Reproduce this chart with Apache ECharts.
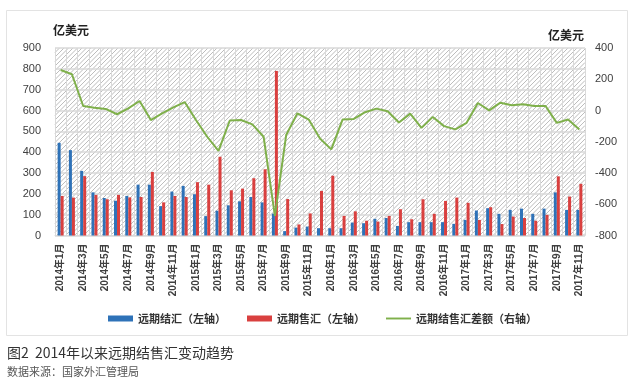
<!DOCTYPE html>
<html>
<head>
<meta charset="utf-8">
<script src="https://cdn.jsdelivr.net/npm/echarts@6/dist/echarts.min.js"></script>
<style>
html,body{margin:0;padding:0;background:#fff;}
#c{width:635px;height:386px;}
</style>
</head>
<body>
<div id="c"></div>
<script>
const categories = [
 '2014年1月','2014年2月','2014年3月','2014年4月','2014年5月','2014年6月','2014年7月','2014年8月','2014年9月','2014年10月','2014年11月','2014年12月',
 '2015年1月','2015年2月','2015年3月','2015年4月','2015年5月','2015年6月','2015年7月','2015年8月','2015年9月','2015年10月','2015年11月','2015年12月',
 '2016年1月','2016年2月','2016年3月','2016年4月','2016年5月','2016年6月','2016年7月','2016年8月','2016年9月','2016年10月','2016年11月','2016年12月',
 '2017年1月','2017年2月','2017年3月','2017年4月','2017年5月','2017年6月','2017年7月','2017年8月','2017年9月','2017年10月','2017年11月'
];
const settle = [445,410,310,207,180,167,190,244,244,141,211,238,
 198,93,119,145,164,185,159,105,21,38,43,35,
 35,35,62,59,80,84,46,64,64,64,64,56,
 75,120,131,104,123,129,104,129,207,123,123];
const sale = [190,182,285,195,174,195,183,185,305,159,190,185,
 256,244,378,217,225,275,318,790,175,53,106,214,
 287,94,116,71,67,94,126,78,174,104,166,182,
 157,75,136,55,91,84,71,99,284,187,248];
const diff = [259,232,29,18,10,-24,14,61,-61,-18,20,54,
 -61,-168,-259,-64,-61,-89,-168,-675,-157,-18,-58,-179,
 -249,-58,-54,-11,12,-5,-77,-20,-111,-41,-100,-121,
 -79,48,1,50,33,40,29,29,-79,-58,-121];
const leftTicks = {min:0, max:900, interval:100};
const rightTicks = {min:-800, max:400, interval:200};

const GL = 55, GR = 50, GT = 48, GB = 150.5;
const W = 635, H = 386;

// diagonal hatch background (decoration) clipped to plot area
function hatchLines(){
  const x0 = GL, y0 = GT, x1 = W - GR, y1 = H - GB;
  const out = [];
  for (let c = x0 + y0; c <= x1 + y1; c += 4.5) {
    const xa = Math.max(x0, c - y1), xb = Math.min(x1, c - y0);
    if (xb <= xa) continue;
    out.push({type:'line', silent:true, z:-5,
      shape:{x1:xa, y1:c - xa, x2:xb, y2:c - xb},
      style:{stroke:'#bdbdbd', lineWidth:1}});
  }
  return out;
}

const FONT = "'Liberation Sans','Noto Sans CJK SC',sans-serif";
const chart = echarts.init(document.getElementById('c'), null, {renderer:'canvas'});
chart.setOption({
  animation:false,
  backgroundColor:'#fff',
  textStyle:{fontFamily:FONT},
  graphic:[
    {type:'rect', shape:{x:6.5,y:10.5,width:621,height:325}, style:{fill:'none',stroke:'#e3e3e3',lineWidth:1}, z:-10},
    {type:'text', left:53, top:24, style:{text:'亿美元', font:"bold 12px 'Noto Sans CJK SC',sans-serif", fill:'#222'}},
    {type:'text', left:548, top:29, style:{text:'亿美元', font:"bold 12px 'Noto Sans CJK SC',sans-serif", fill:'#222'}},
    {type:'text', left:7, top:346, style:{text:'图2  2014年以来远期结售汇变动趋势', font:"14px 'Noto Sans CJK SC',sans-serif", fill:'#333'}},
    {type:'text', left:7, top:366, style:{text:'数据来源：国家外汇管理局', font:"11px 'Noto Sans CJK SC',sans-serif", fill:'#555'}}
  ].concat(hatchLines()),
  grid:{left:GL, right:GR, top:GT, bottom:GB, show:false},
  legend:{
    bottom:57, left:103, itemGap:21, itemWidth:25, itemHeight:6,
    textStyle:{fontSize:11, color:'#333', fontFamily:"'Noto Sans CJK SC',sans-serif", fontWeight:'bold'},
    data:[
      {name:'远期结汇（左轴）', icon:'rect'},
      {name:'远期售汇（左轴）', icon:'rect'},
      {name:'远期结售汇差额（右轴）', icon:'path://M0,4 L26,4 L26,6 L0,6 Z'}
    ]
  },
  xAxis:{
    type:'category', data:categories, boundaryGap:true,
    axisLine:{show:true, lineStyle:{color:'#d9d9d9'}},
    axisTick:{show:false},
    splitLine:{show:true, interval:0, lineStyle:{color:'#d9d9d9', width:1}},
    axisLabel:{interval:1, rotate:90, fontSize:10, color:'#404040', fontWeight:'bold', margin:8, fontFamily:FONT}
  },
  yAxis:[
    {type:'value', min:leftTicks.min, max:leftTicks.max, interval:leftTicks.interval,
     axisLine:{show:false}, axisTick:{show:false},
     splitLine:{show:true, lineStyle:{color:'#d9d9d9', width:1.5}},
     axisLabel:{fontSize:11, color:'#404040', margin:14, fontFamily:FONT}},
    {type:'value', min:rightTicks.min, max:rightTicks.max, interval:rightTicks.interval,
     axisLine:{show:false}, axisTick:{show:false}, splitLine:{show:false},
     axisLabel:{fontSize:11, color:'#404040', margin:10, fontFamily:FONT}}
  ],
  series:[
    {name:'远期结汇（左轴）', type:'bar', data:settle, barWidth:3, barGap:'0%', itemStyle:{color:'#2e72b8'}},
    {name:'远期售汇（左轴）', type:'bar', data:sale, barWidth:3, itemStyle:{color:'#d9403f'}},
    {name:'远期结售汇差额（右轴）', type:'line', yAxisIndex:1, data:diff, symbol:'none',
     lineStyle:{color:'#7fb04b', width:2}, itemStyle:{color:'#7fb04b'}}
  ]
});
</script>
</body>
</html>
